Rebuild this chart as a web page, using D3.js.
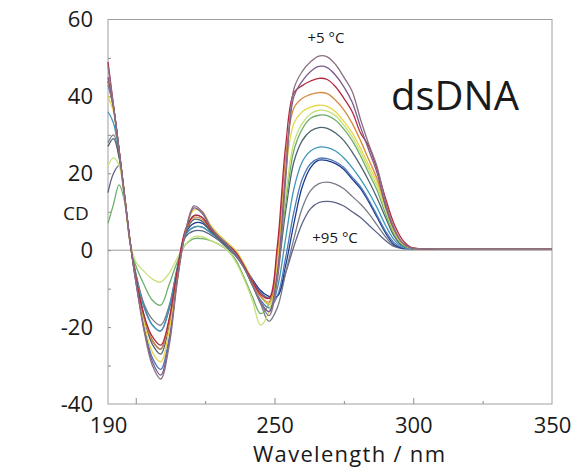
<!DOCTYPE html>
<html lang="en">
<head>
<meta charset="UTF-8">
<title>dsDNA CD spectra</title>
<script src="https://d3js.org/d3.v7.min.js"></script>
<style>
  body { margin: 0; background: #fff; }
  text { font-family: "Open Sans", "Noto Sans", sans-serif; fill: #1a1a1a; }
  .frame { fill: none; stroke: #a0a0a0; stroke-width: 1; }
  .zero { stroke: #9a9a9a; stroke-width: 1; }
  .spec { fill: none; stroke-width: 1.3; stroke-linejoin: round; }
  .tick line { stroke: #8c8c8c; }
  .domain { display: none; }
</style>
</head>
<body>
<svg width="581" height="474"></svg>
<script>
// wavelength grid (nm)
const wavelengths = [190,192,194,196,198,200,203,206,209,212,215,218,221,224,227,230,233,236,239,242,245,248,251,254,257,260,263,266,269,272,275,278,281,284,287,290,293,296,299,302,310,330,350];

// temperatures of each spectrum, 5 → 95 °C
const temperatures = [5, 12.5, 20, 27.5, 35, 42.5, 50, 57.5, 65, 72.5, 80, 87.5, 95];
const lineColors = ["#8b6f82", "#7b5a8c", "#b3283f", "#d68a3c", "#e6d648", "#c6e07a", "#6fae6a",
                    "#4d6470", "#3f98b8", "#4f78b8", "#1d3c8c", "#7a7a88", "#5c6384"];

// CD values, one row per temperature
const cdValues = [
  [48,37.5,26,14,2,-8,-21,-30,-33.5,-25,-8,5,11.5,10,6,3.5,1.5,-1,-4.5,-9,-13.5,-17,-8,18,42,46.5,49,50.5,50.3,48.3,45,41.3,34,27.5,21.6,12.5,6,2,0.7,0.4,0.4,0.4,0.4],
  [45,37,26,14,2,-8,-20.5,-29,-32.5,-24,-7.5,5,11,9.5,6,3.5,1.5,-1,-4.5,-9,-13.5,-16,-6,20,40,44,46.5,47.8,47.5,45.5,42.5,38.5,32,26,20,11.5,5.5,2,0.6,0.4,0.4,0.4,0.4],
  [49,37.5,26,14,2,-7,-17,-22.5,-24.7,-18,-5,5.5,9,8.5,5.5,3.5,1.5,-0.5,-4,-8,-11.5,-12.5,1,27,41,42.8,44,44.7,44.4,42.5,39.5,36,30.5,27,21,13.5,7,2.8,0.8,0.4,0.4,0.4,0.4],
  [44,37,26,14,2,-7,-17.5,-23.5,-25.7,-19,-6,5,8.5,8,5.5,3.5,1.5,-0.5,-4,-8.5,-12,-13.5,-1,24,37,39.5,40.5,41,40.7,39,36.5,33,28.5,23.5,18.5,11.5,5.5,2,0.6,0.4,0.4,0.4,0.4],
  [40,36,26,14,2,-7.5,-19,-26.5,-29,-21,-6.5,5.5,10.5,10,6.5,4,2,0,-3.5,-8,-12,-14,-3,20,33,36,37.2,37.7,37.4,36,33.5,30.5,26.5,22,17.5,11,5,1.8,0.6,0.4,0.4,0.4,0.4],
  [22,24,22,13,2,-3,-5.5,-7.5,-8.3,-6,-2,1.5,3.5,3.5,2.5,1.5,0,-3,-7.5,-13,-19.5,-16,-4,14,28,33,35.5,36.4,36.2,35,32.5,29.5,25.5,21,16.5,10.5,5,1.8,0.6,0.4,0.4,0.4,0.4],
  [7,12,17,12.5,1.5,-4,-9,-13,-14.3,-9,-3,1.5,3,3,2.5,1.5,0,-2.5,-7,-12,-16.5,-14,-4,12,26,31.5,34.3,35.1,35,33.8,31.5,28.5,24.5,20,15.5,9.5,4.5,1.5,0.5,0.4,0.4,0.4,0.4],
  [27,29,24,13.5,2,-7,-17.5,-24.5,-27,-19.5,-6,4.5,8,7.5,5,3,1,-1,-4.5,-8.5,-12,-14,-6,10,23,28.5,31,31.9,31.7,30.5,28.5,25.5,22,18,13.5,8.5,3.8,1.2,0.5,0.4,0.4,0.4,0.4],
  [36,33,25,13.5,2,-6.5,-15,-19.5,-21,-15,-4.5,4,6,6,4.5,3,1,-1,-4.5,-9,-13.5,-16,-10,3,16,23,25.8,26.8,26.7,25.8,24,21.5,18.5,15,11,6.5,2.8,0.9,0.4,0.4,0.4,0.4,0.4],
  [43,37,26,14,2,-8,-19.5,-28,-31,-23,-7,5,9,8.5,5.5,3.5,1.5,-1,-4.5,-9,-13,-15,-12,-2,10,18.5,22.5,23.9,23.8,23,21.5,19,16.5,13,9,5,2,0.7,0.4,0.4,0.4,0.4,0.4],
  [44,37,26,14,2,-7,-17,-23.5,-25.7,-18.5,-5.5,4.5,7,7,5,3,1,-1,-4,-7.5,-10.5,-12,-12,-4,7,16.5,21.5,23.4,23.3,22.5,21,18.5,16,12.5,8.5,4.5,1.5,0.5,0.4,0.4,0.4,0.4,0.4],
  [28,30,24.5,13.5,2,-6,-14,-18,-19.5,-14.5,-4.5,4,6,6,4.5,3,1,-1,-4.5,-9,-14,-18.5,-15,-6,3,11,15.5,17.3,17.7,17.2,16,14,12,9.5,6.5,3.5,1.2,0.5,0.4,0.4,0.4,0.4,0.4],
  [15,20,22,13.5,2,-6,-14.5,-19.5,-21,-15.5,-5,3.5,5,5,4,2.5,0.5,-1.5,-4.5,-8,-11,-12.5,-12,-6,1,7,10.8,12.4,12.7,12.4,11.5,10,8.5,6.5,4.5,2.5,1,0.5,0.4,0.4,0.4,0.4,0.4]
];

const xLabelTicks = [190, 250, 300, 350];
const xMarkTicks = [200, 225, 250, 275, 300, 325];
const yTicks = [-40, -20, 0, 20, 40, 60];
const yMarkTicks = [-30, -20, -10, 0, 10, 20, 30, 40, 50];

const svg = d3.select("svg");
const plotLeft = 108, plotRight = 552, plotTop = 19.5, plotBottom = 404;

const x = d3.scaleLinear().domain([190, 350]).range([plotLeft, plotRight]);
const y = d3.scaleLinear().domain([-40, 60]).range([plotBottom, plotTop]);

// frame and zero line
svg.append("rect").attr("class", "frame")
  .attr("x", plotLeft).attr("y", plotTop)
  .attr("width", plotRight - plotLeft).attr("height", plotBottom - plotTop);
svg.append("line").attr("class", "zero")
  .attr("x1", plotLeft).attr("x2", plotRight)
  .attr("y1", y(0)).attr("y2", y(0));

// inward tick marks
svg.append("g").attr("transform", `translate(0,${plotBottom})`)
  .call(d3.axisBottom(x).tickValues(xMarkTicks).tickSize(-5).tickFormat(""))
  .selectAll(".tick line").attr("y2", d => d % 50 === 0 ? -6 : -3);
svg.append("g").attr("transform", `translate(${plotLeft},0)`)
  .call(d3.axisLeft(y).tickValues(yMarkTicks).tickSize(-3).tickFormat(""));

// tick labels (plain hyphen for negatives, as in the original)
const xl = svg.append("g").attr("transform", `translate(0,${plotBottom})`)
  .call(d3.axisBottom(x).tickValues(xLabelTicks).tickSize(0).tickPadding(13).tickFormat(d => String(d)));
xl.selectAll("text").style("font-size", "22px").attr("fill", "#1a1a1a");

const yl = svg.append("g").attr("transform", `translate(${plotLeft},0)`)
  .call(d3.axisLeft(y).tickValues(yTicks).tickSize(0).tickPadding(15).tickFormat(d => String(d)));
yl.selectAll("text").style("font-size", "22px").attr("fill", "#1a1a1a");

// spectra
const line = d3.line()
  .x((d, i) => x(wavelengths[i]))
  .y(d => y(d))
  .curve(d3.curveCatmullRom.alpha(0.5));

const order = d3.range(cdValues.length).reverse();
svg.append("g").selectAll("path")
  .data(order)
  .join("path")
  .attr("class", "spec")
  .attr("stroke", i => lineColors[i])
  .attr("d", i => line(cdValues[i]));

// labels
svg.append("text").attr("x", 326).attr("y", 43)
  .attr("text-anchor", "middle").style("font-size", "15px").text("+5 °C");
svg.append("text").attr("x", 335).attr("y", 243)
  .attr("text-anchor", "middle").style("font-size", "15px").text("+95 °C");
svg.append("text").attr("x", 455).attr("y", 110)
  .attr("text-anchor", "middle").style("font-size", "40px").text("dsDNA");
svg.append("text").attr("x", 76).attr("y", 220)
  .attr("text-anchor", "middle").style("font-size", "19px").text("CD");
svg.append("text").attr("x", 349).attr("y", 462)
  .attr("text-anchor", "middle").style("font-size", "22px")
  .attr("textLength", 192).attr("lengthAdjust", "spacing")
  .text("Wavelength / nm");
</script>
</body>
</html>
